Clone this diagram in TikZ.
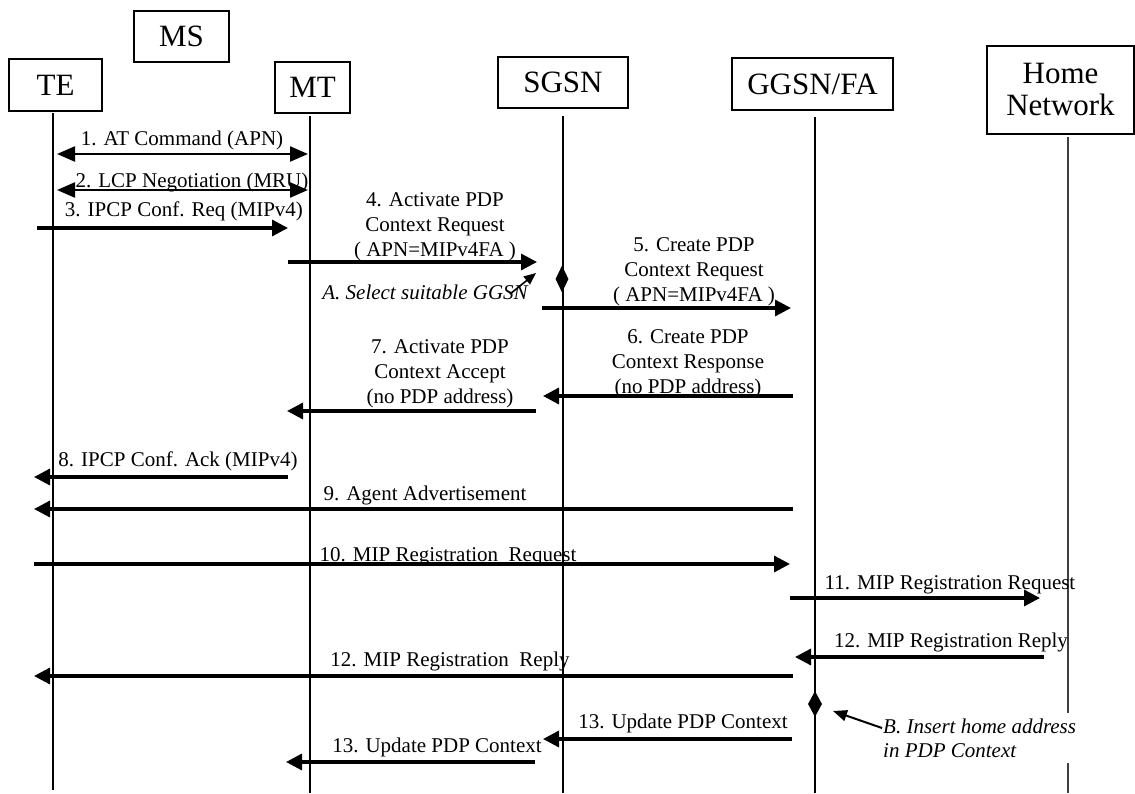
\documentclass[tikz,border=0pt]{standalone}
\usepackage{fontspec}
\setmainfont{Liberation Serif}
\usetikzlibrary{arrows.meta,shapes.geometric}
\begin{document}
\begin{tikzpicture}[x=1pt,y=-1pt,
  ent/.style={draw,line width=1.1pt,inner sep=0pt,font=\fontsize{31}{32}\selectfont,align=center},
  life/.style={line width=1.1pt},
  msg/.style={line width=3.3pt,-{Triangle[length=16pt,width=16pt]}},
  dmsg/.style={line width=2.3pt,{Triangle[length=18pt,width=15pt]}-{Triangle[length=18pt,width=15pt]}},
  lbl/.style={font=\fontsize{21}{25}\selectfont,inner sep=0pt,align=center},
  note/.style={font=\fontsize{21}{24}\selectfont\itshape,inner sep=0pt,align=left},
  pin/.style={line width=1.6pt,-{Triangle[length=12pt,width=10pt]}},
  act/.style={diamond,fill=black,inner sep=0pt,minimum width=13pt,minimum height=27pt}
]
\useasboundingbox (0,0) rectangle (1135,794);
\fill[white] (0,0) rectangle (1135,794);

% entities
\node[ent,minimum width=95pt,minimum height=51pt] (ms) at (181.5,36.5) {MS};
\node[ent,minimum width=93pt,minimum height=52pt] (te) at (55.5,85) {TE};
\node[ent,minimum width=75pt,minimum height=51pt] (mt) at (312.5,87.5) {MT};
\node[ent,minimum width=130pt,minimum height=51pt] (sgsn) at (563,82.5) {SGSN};
\node[ent,minimum width=161pt,minimum height=52pt] (ggsn) at (812.5,84) {GGSN/FA};
\node[ent,minimum width=147pt,minimum height=88pt] (home) at (1060.5,90) {Home\\Network};

% lifelines
\coordinate (teT) at (53,113);   \coordinate (teB) at (53,790);
\coordinate (mtT) at (310,116);  \coordinate (mtB) at (310,793);
\coordinate (sgT) at (563,116);  \coordinate (sgB) at (563,793);
\coordinate (ggT) at (815,117);  \coordinate (ggB) at (815,793);
\coordinate (hnT) at (1068,137); \coordinate (hnB) at (1068,793);
\draw[life] (teT) -- (teB);
\draw[life] (mtT) -- (mtB);
\draw[life] (sgT) -- (sgB);
\draw[life] (ggT) -- (ggB);
\draw[life,black!75] (hnT) -- (hnB);

% 1, 2
\coordinate (m1a) at (57,154);  \coordinate (m1b) at (308,154);
\draw[dmsg] (m1a) -- (m1b);
\node[lbl] (l1) at (182,140) {1. AT Command (APN)};
\coordinate (m2a) at (57,190);  \coordinate (m2b) at (308,190);
\draw[dmsg] (m2a) -- (m2b);
\node[lbl] (l2) at (192,182) {2. LCP Negotiation (MRU)};

% 3
\coordinate (m3a) at (37,228);  \coordinate (m3b) at (288,228);
\draw[msg] (m3a) -- (m3b);
\node[lbl] (l3) at (184,211) {3. IPCP Conf. Req (MIPv4)};

% 4
\coordinate (m4a) at (288,262);  \coordinate (m4b) at (537,262);
\draw[msg] (m4a) -- (m4b);
\node[lbl] (l4) at (435,227) {4. Activate PDP\\Context Request\\( APN=MIPv4FA )};

% A
\node[act] (dA) at (562,279) {};
\node[note] (nA) at (425,292) {A. Select suitable GGSN};
\coordinate (pA) at (510,294);  \coordinate (pAt) at (536,273);
\draw[pin] (pA) -- (pAt);

% 5
\coordinate (m5a) at (542,308);  \coordinate (m5b) at (791,308);
\draw[msg] (m5a) -- (m5b);
\node[lbl] (l5) at (694,272) {5. Create PDP\\Context Request\\( APN=MIPv4FA )};

% 6
\coordinate (m6a) at (793,396);  \coordinate (m6b) at (543,396);
\draw[msg] (m6a) -- (m6b);
\node[lbl] (l6) at (688,364) {6. Create PDP\\Context Response\\(no PDP address)};

% 7
\coordinate (m7a) at (536,411);  \coordinate (m7b) at (287,411);
\draw[msg] (m7a) -- (m7b);
\node[lbl] (l7) at (440,374) {7. Activate PDP\\Context Accept\\(no PDP address)};

% 8
\coordinate (m8a) at (288,477);  \coordinate (m8b) at (34,477);
\draw[msg] (m8a) -- (m8b);
\node[lbl] (l8) at (178,461) {8. IPCP Conf. Ack (MIPv4)};

% 9
\coordinate (m9a) at (793,509);  \coordinate (m9b) at (34,509);
\draw[msg] (m9a) -- (m9b);
\node[lbl] (l9) at (425,495) {9. Agent Advertisement};

% 10
\coordinate (m10a) at (34,564);  \coordinate (m10b) at (790,564);
\draw[msg] (m10a) -- (m10b);
\node[lbl] (l10) at (448,557) {10. MIP Registration~ Request};

% 11
\coordinate (m11a) at (790,598);  \coordinate (m11b) at (1040,598);
\draw[msg] (m11a) -- (m11b);
\node[lbl] (l11) at (950,585) {11. MIP Registration Request};

% 12
\coordinate (m12a) at (1044,657);  \coordinate (m12b) at (795,657);
\draw[msg] (m12a) -- (m12b);
\node[lbl] (l12) at (951,642) {12. MIP Registration Reply};

% 12'
\coordinate (m12c) at (793,676);  \coordinate (m12d) at (34,676);
\draw[msg] (m12c) -- (m12d);
\node[lbl] (l12b) at (450,661) {12. MIP Registration~ Reply};

% B
\node[act,minimum width=14pt,minimum height=26pt] (dB) at (815,704) {};
\node[note,fill=white,inner ysep=6pt,inner xsep=1pt] (nB) at (882,738) [anchor=west] {B. Insert home address\\in PDP Context};
\coordinate (pB) at (882,728);  \coordinate (pBt) at (833,711);
\draw[pin,line width=2pt,-{Triangle[length=14pt,width=11pt]}] (pB) -- (pBt);

% 13
\coordinate (m13a) at (792,739);  \coordinate (m13b) at (543,739);
\draw[msg] (m13a) -- (m13b);
\node[lbl] (l13) at (683,723) {13. Update PDP Context};

% 13'
\coordinate (m13c) at (535,762);  \coordinate (m13d) at (286,762);
\draw[msg] (m13c) -- (m13d);
\node[lbl] (l13b) at (437,747) {13. Update PDP Context};
\end{tikzpicture}
\end{document}
